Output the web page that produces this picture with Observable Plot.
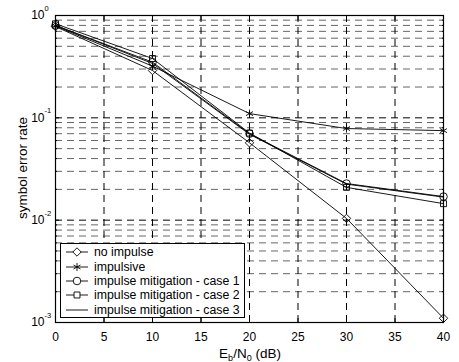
<!DOCTYPE html>
<html>
<head>
<meta charset="utf-8">
<script src="https://cdn.jsdelivr.net/npm/d3@7"></script>
<script src="https://cdn.jsdelivr.net/npm/@observablehq/plot@0.6"></script>
<style>
  html, body { margin: 0; padding: 0; background: #fff; }
  #wrap { position: relative; width: 459px; height: 362px; font-family: "Liberation Sans", Arial, sans-serif; }
  #legend { position: absolute; left: 60px; top: 243px; width: 183px; height: 72px; border: 1px solid #000; background: #fff; font-size: 12.3px; padding-top: 1px; }
  .row { display: flex; align-items: center; height: 14.4px; white-space: nowrap; }
  .row svg { margin-left: 5px; margin-right: 6px; flex: none; }
</style>
</head>
<body>
<div id="wrap"></div>
<script>
const ebn0 = [0, 10, 20, 30, 40];
const seriesNames = ["no impulse", "impulsive", "impulse mitigation - case 1", "impulse mitigation - case 2", "impulse mitigation - case 3"];
const noImpulse = [0.78, 0.29, 0.057, 0.0104, 0.0011];
const impulsive = [0.79, 0.32, 0.110, 0.0786, 0.075];
const case1 = [0.80, 0.35, 0.070, 0.0228, 0.0170];
const case2 = [0.83, 0.38, 0.071, 0.0209, 0.0145];
const case3 = [0.80, 0.34, 0.069, 0.0225, 0.0168];
const seriesValues = [noImpulse, impulsive, case1, case2, case3];
const markerSymbols = ["diamond2", "asterisk", "circle", "square2", null];
const xTicks = [0, 5, 10, 15, 20, 25, 30, 35, 40];
const yMajor = [1e-3, 1e-2, 1e-1, 1];
const yExponents = ["-3", "-2", "-1", "0"];

const data = [];
seriesValues.forEach((vals, i) => vals.forEach((v, j) => data.push({x: ebn0[j], y: v, series: seriesNames[i]})));
const markerData = data.filter(d => markerSymbols[seriesNames.indexOf(d.series)] !== null);

const yMinor = [];
for (let e = -3; e < 0; e++) for (let k = 2; k <= 9; k++) yMinor.push(k * Math.pow(10, e));

const dash = "7,5";
const chart = Plot.plot({
  width: 459, height: 362,
  marginLeft: 55, marginRight: 16, marginTop: 15, marginBottom: 40,
  style: {fontFamily: "'Liberation Sans', Arial, sans-serif", fontSize: "11px", background: "white", color: "black"},
  x: {domain: [0, 40], label: null},
  y: {type: "log", domain: [1e-3, 1], label: null},
  symbol: {domain: seriesNames.slice(0, 4), range: markerSymbols.slice(0, 4)},
  marks: [
    Plot.ruleY(yMinor, {stroke: "#666", strokeDasharray: dash}),
    Plot.ruleY(yMajor.slice(1, 3), {stroke: "#000", strokeDasharray: dash}),
    Plot.ruleX(xTicks.slice(1, -1), {stroke: "#000", strokeDasharray: dash}),
    Plot.axisX({ticks: xTicks, tickSize: -4, text: null, anchor: "bottom", label: null}),
    Plot.axisX({ticks: xTicks, tickSize: -4, text: null, anchor: "top", label: null}),
    Plot.axisY({ticks: yMajor, tickSize: -4, text: null, anchor: "left", label: null}),
    Plot.axisY({ticks: yMinor, tickSize: -2, text: null, anchor: "left", label: null}),
    Plot.axisY({ticks: yMajor, tickSize: -4, text: null, anchor: "right", label: null}),
    Plot.axisY({ticks: yMinor, tickSize: -2, text: null, anchor: "right", label: null}),
    Plot.axisX({ticks: xTicks, tickSize: 0, tickPadding: 10, fontSize: 12, label: null}),
    Plot.line(data, {x: "x", y: "y", z: "series", stroke: "#000", strokeWidth: 0.9}),
    Plot.dot(markerData, {x: "x", y: "y", symbol: "series", r: 3.8, stroke: "#000", fill: "none", strokeWidth: 0.9}),
    Plot.frame({stroke: "#000", strokeWidth: 1.2}),
    Plot.text(yMajor, {y: d => d, text: () => "10", frameAnchor: "left", textAnchor: "end", dx: -11, fontSize: 12}),
    Plot.text(yMajor, {y: d => d, text: (d, i) => yExponents[i], frameAnchor: "left", textAnchor: "start", dx: -11, dy: -7, fontSize: 7.5})
  ]
});

const svg = d3.select(chart);
const xl = svg.append("text").attr("x", 250).attr("y", 358).attr("text-anchor", "middle")
  .attr("font-size", 13.5).attr("fill", "#000");
xl.append("tspan").text("E");
xl.append("tspan").attr("font-size", 9).attr("dy", 3).text("b");
xl.append("tspan").attr("dy", -3).text("/N");
xl.append("tspan").attr("font-size", 9).attr("dy", 3).text("0");
xl.append("tspan").attr("dy", -3).text(" (dB)");
svg.append("text").attr("transform", "translate(27,168) rotate(-90)").attr("text-anchor", "middle")
  .attr("font-size", 13.5).attr("fill", "#000").text("symbol error rate");

const wrap = document.getElementById("wrap");
wrap.appendChild(chart);

const legend = document.createElement("div");
legend.id = "legend";
wrap.appendChild(legend);
seriesNames.forEach((name, i) => {
  const row = document.createElement("div");
  row.className = "row";
  const s = d3.create("svg").attr("width", 22).attr("height", 12);
  s.append("line").attr("x1", 0).attr("x2", 22).attr("y1", 6).attr("y2", 6).attr("stroke", "#000").attr("stroke-width", 0.9);
  if (markerSymbols[i]) {
    const symMap = {diamond2: d3.symbolDiamond2, asterisk: d3.symbolAsterisk, circle: d3.symbolCircle, square2: d3.symbolSquare2};
    s.append("path").attr("transform", "translate(11,6)").attr("d", d3.symbol(symMap[markerSymbols[i]], 45)())
      .attr("fill", markerSymbols[i] === "asterisk" ? "none" : "#fff").attr("stroke", "#000").attr("stroke-width", 0.9);
  }
  row.appendChild(s.node());
  const t = document.createElement("span");
  t.textContent = name;
  row.appendChild(t);
  legend.appendChild(row);
});
</script>
</body>
</html>
